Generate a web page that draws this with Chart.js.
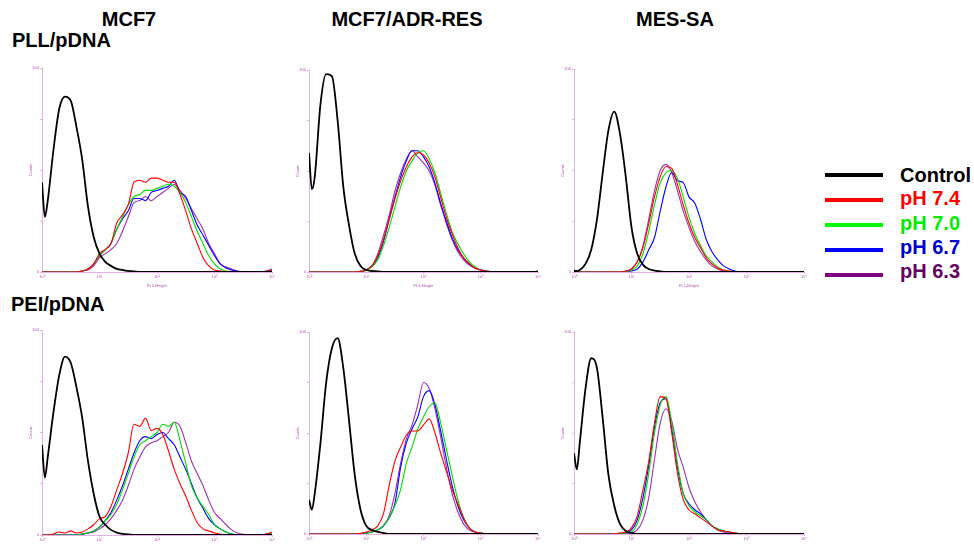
<!DOCTYPE html>
<html><head><meta charset="utf-8">
<script src="https://cdn.jsdelivr.net/npm/chart.js@4.4.1/dist/chart.umd.min.js"></script>
<style>
body{margin:0;background:#fff;width:974px;height:546px;position:relative;overflow:hidden;font-family:"Liberation Sans",Arial,sans-serif;}
.t{position:absolute;font-weight:bold;font-size:20px;color:#000;white-space:nowrap;line-height:20px;}
.c{transform:translateX(-50%);}
canvas{position:absolute;}
.lg{position:absolute;height:4px;width:58px;left:825px;}
.lt{position:absolute;left:900px;font-weight:bold;font-size:20px;line-height:20px;white-space:nowrap;}
</style></head><body>
<div class="t c" style="left:129px;top:9px">MCF7</div>
<div class="t c" style="left:407px;top:9px">MCF7/ADR-RES</div>
<div class="t c" style="left:675px;top:9px">MES-SA</div>
<div class="t" style="left:12px;top:30px">PLL/pDNA</div>
<div class="t" style="left:11px;top:294px">PEI/pDNA</div>
<div id="legend"></div>
<script>
// x grid: log10(FL1-Height), decades 10^0 .. 10^4
const gridLogFL1 = [0,0.05,0.1,0.2,0.3,0.4,0.5,0.6,0.7,0.8,0.9,1.0,1.1,1.2,1.3,1.4,1.5,1.6,1.7,1.8,1.9,2.0,2.1,2.2,2.3,2.4,2.5,2.6,2.7,2.8,2.9,3.0,3.1,3.2,3.3,3.4,3.5,3.6,3.7,3.8,3.9,4.0];
const xTickLabels = ['10⁰','10¹','10²','10³','10⁴'];
const seriesNames = ['Control','pH 7.4','pH 7.0','pH 6.7','pH 6.3'];
const rowLabels = ['PLL/pDNA','PEI/pDNA'];
const colLabels = ['MCF7','MCF7/ADR-RES','MES-SA'];

// PLL/pDNA – MCF7 (counts, % of axis max)
const pllMcf7Control = [44,27, 35,60,80,86,84,71,55,32,17,9, 5,3,1.5,1,0.5,0.3,0,0,0,0, 0,0,0,0,0,0,0,0,0,0, 0,0,0,0,0,0,0,0,0,0];
const pllMcf7Ph74 = [0,0, 0,0,0,0,0,0,0.5,1.5,4,9, 11,14,24,28,33,44,45,44,46,46, 45,44,44,38,30,21,14,7,3,1, 0.5,0,0,0,0,0,0,0,0.3,1];
const pllMcf7Ph70 = [0,0, 0,0,0,0,0,0,0.5,1.5,4,8, 11,14,21,27,33,37,38,40,40,41, 42,43,42,39,34,27,20,14,8,4, 1.5,0.5,0,0,0,0,0,0,0.3,0.8];
const pllMcf7Ph67 = [0,0, 0,0,0,0,0,0,0.5,1.5,4,8, 11,14,21,26,30,36,36,35,39,40, 41,42,45,39,37,30,23,18,13,8, 4,2,1,0.3,0,0,0,0,0.3,1];
const pllMcf7Ph63 = [0,0, 0,0,0,0,0,0,0.5,1,3,7, 9,11,14,20,27,34,35,37,35,37, 39,41,43,40,36,31,26,21,14,9, 4,2.5,1.5,0.5,0.2,0,0,0,0.5,1.5];

// PLL/pDNA – MCF7/ADR-RES
const pllAdrControl = [59,41, 47,83,98,97,75,42,23,9,3,1, 0.5,0.3,0,0,0,0,0,0,0,0, 0,0,0,0,0,0,0,0,0,0, 0,0,0,0,0,0,0,0,0,0];
const pllAdrPh74 = [0,0, 0,0,0,0,0,0,0,0,0.3,1, 3,8,16,26,36,45,52,57,59,58, 54,47,37,27,19,12,7,4,2,1, 0.5,0,0,0,0,0,0,0,0,0.3];
const pllAdrPh70 = [0,0, 0,0,0,0,0,0,0,0,0.2,0.8, 2.5,6,13,22,32,42,50,55,59,60, 56,49,39,29,20,14,9,5,2.5,1, 0.5,0,0,0,0,0,0,0,0,0.3];
const pllAdrPh67 = [0,0, 0,0,0,0,0,0,0,0,0.3,1, 3,7,15,26,37,47,55,60,60,57, 52,44,34,25,17,11,7,4,2,1, 0.5,0,0,0,0,0,0,0,0,0.3];
const pllAdrPh63 = [0,0, 0,0,0,0,0,0,0,0,0.3,1, 3,9,18,28,40,49,56,60,57,54, 50,43,33,24,16,10,6,3.5,2,1, 0.5,0,0,0,0,0,0,0,0,0.5];

// PLL/pDNA – MES-SA
const pllMesControl = [0.5,0.5, 1,4,11,26,49,70,79,68,47,22, 9,3.5,1.5,0.7,0.3,0,0,0,0,0, 0,0,0,0,0,0,0,0,0,0, 0,0,0,0,0,0,0,0,0,0];
const pllMesPh74 = [0,0, 0,0,0,0,0,0,0,0,0.5,1.5, 5,12,24,37,47,52,51,43,33,24, 17,12,7,4,2,1,0.5,0,0,0, 0,0,0,0,0,0,0,0,0,0];
const pllMesPh70 = [0,0, 0,0,0,0,0,0,0,0,0.3,1, 3,9,20,33,44,49,50,46,37,27, 19,13,8,5,2.5,1,0.5,0,0,0, 0,0,0,0,0,0,0,0,0,0];
const pllMesPh67 = [0,0, 0,0,0,0,0,0,0,0,0.2,0.5, 1.5,5,11,17,30,42,49,45,44,37, 34,26,16,10,6,3,1.5,0.5,0,0, 0,0,0,0,0,0,0,0,0,0];
const pllMesPh63 = [0,0, 0,0,0,0,0,0,0,0,0.5,1.5, 5,13,26,40,50,53,49,40,30,22, 15,10,6,3,1.5,0.5,0,0,0,0, 0,0,0,0,0,0,0,0,0,0];

// PEI/pDNA – MCF7
const peiMcf7Control = [44,28, 38,60,78,87,84,72,57,36,20,9, 5,2.5,1.2,0.5,0.3,0,0,0,0,0, 0,0,0,0,0,0,0,0,0,0, 0,0,0,0,0,0,0,0,0,0];
const peiMcf7Ph74 = [0,0, 0,0.5,1.5,1,2,1,1.5,3,5,8, 9,14,22,30,40,54,53,57,51,52, 49,41,32,25,19,12,6,3,2,1, 0.5,0,0,0,0,0,0,0,0.5,1.5];
const peiMcf7Ph70 = [0,0, 0,0,0,0,0,0,0.5,1,2,4, 7,10,15,22,30,38,44,46,48,50, 54,53,55,46,35,24,18,14,10,5, 3,1.5,0.5,0,0,0,0,0,0.3,0.8];
const peiMcf7Ph67 = [0,0, 0,0,0,0,0,0,0.5,1,2,4, 7,11,17,24,32,40,46,48,47,49, 50,47,44,38,32,25,18,13,8,5, 3,1.5,0.5,0,0,0,0,0,0.3,0.8];
const peiMcf7Ph63 = [0,0, 0,0,0,0,0,0,0.3,1,1.5,3, 5,8,12,17,24,32,38,43,45,46, 48,50,55,53,45,36,30,24,17,11, 8,5,2.5,1,0.3,0,0,0,0.3,0.8];

// PEI/pDNA – MCF7/ADR-RES
const peiAdrControl = [17,12, 20,45,75,92,97,82,56,29,12,4, 2,1,0.5,0,0,0,0,0,0,0, 0,0,0,0,0,0,0,0,0,0, 0,0,0,0,0,0,0,0,0,0];
const peiAdrPh74 = [0,0, 0,0,0,0,0,0,0,0,0.3,1, 2,4,10,24,36,43,49,51,51,54, 57,50,40,31,22,15,8,3,1,0.5, 0,0,0,0,0,0,0,0,0,0];
const peiAdrPh70 = [0,0, 0,0,0,0,0,0,0,0,0.2,0.5, 1,2,4,8,14,22,35,43,52,58, 63,65,55,42,29,17,8,3,1,0.5, 0,0,0,0,0,0,0,0,0,0];
const peiAdrPh67 = [0,0, 0,0,0,0,0,0,0,0,0.2,0.5, 1,2,4,8,15,33,45,52,58,68, 71,64,51,37,24,14,7,3,1,0.5, 0,0,0,0,0,0,0,0,0,0];
const peiAdrPh63 = [0,0, 0,0,0,0,0,0,0,0,0.2,0.5, 1,2,4,9,20,35,47,54,64,75, 72,62,48,33,20,11,5,2,1,0.5, 0,0,0,0,0,0,0,0,0,0];

// PEI/pDNA – MES-SA
const peiMesControl = [40,32, 45,72,87,82,57,29,14,5,1.5,0.5, 0,0,0,0,0,0,0,0,0,0, 0,0,0,0,0,0,0,0,0,0, 0,0,0,0,0,0,0,0,0,0];
const peiMesPh74 = [0,0, 0,0,0,0,0,0,0,0.5,1,3, 9,22,36,55,68,67,50,30,17,12, 10,8,6,4,2,1.5,1,0.5,0,0, 0,0,0,0,0,0,0,0,0,0];
const peiMesPh70 = [0,0, 0,0,0,0,0,0,0,0.3,0.5,1, 5,14,30,50,64,68,55,35,20,14, 11,9,7,4,2.5,1.5,1,0.5,0,0, 0,0,0,0,0,0,0,0,0,0];
const peiMesPh67 = [0,0, 0,0,0,0,0,0,0,0.3,0.7,2, 7,18,34,53,65,67,52,33,20,15, 12,10,7,4,2.5,1.5,1,0.5,0,0, 0,0,0,0,0,0,0,0,0,0];
const peiMesPh63 = [0,0, 0,0,0,0,0,0,0,0,0.2,0.5, 2,7,18,37,55,62,56,42,33,23, 16,11,7,4,2,1,0.5,0,0,0, 0,0,0,0,0,0,0,0,0,0];

const lineColors = ['#000000','#ff0000','#00dd00','#0000ff','#a030b0'];
const lineWidths = [1.8,1.1,1.1,1.1,1.1];
const legendLineColors = ['#000000','#ff0000','#00ff00','#0000ff','#800080'];
const legendTextColors = ['#000000','#ff0000','#00ee00','#0000cc','#660066'];

const panels = [
  {x:42, y:68, w:230, h:204, data:[pllMcf7Control,pllMcf7Ph74,pllMcf7Ph70,pllMcf7Ph67,pllMcf7Ph63]},
  {x:309,y:70, w:229, h:202, data:[pllAdrControl,pllAdrPh74,pllAdrPh70,pllAdrPh67,pllAdrPh63]},
  {x:574,y:69, w:230, h:203, data:[pllMesControl,pllMesPh74,pllMesPh70,pllMesPh67,pllMesPh63]},
  {x:42, y:330,w:230, h:205, data:[peiMcf7Control,peiMcf7Ph74,peiMcf7Ph70,peiMcf7Ph67,peiMcf7Ph63]},
  {x:309,y:332,w:229, h:202, data:[peiAdrControl,peiAdrPh74,peiAdrPh70,peiAdrPh67,peiAdrPh63]},
  {x:574,y:332,w:230, h:202, data:[peiMesControl,peiMesPh74,peiMesPh70,peiMesPh67,peiMesPh63]}
];

const axisCol = '#e6b0e6', tickTxt = '#b050b0';
const YW=14, PT=4, PR=6, XH=16;

panels.forEach(p=>{
  const c=document.createElement('canvas');
  const w=YW+p.w+PR, h=PT+p.h+XH;
  c.width=w; c.height=h;
  c.style.left=(p.x-YW)+'px'; c.style.top=(p.y-PT)+'px';
  c.style.width=w+'px'; c.style.height=h+'px';
  document.body.appendChild(c);
  new Chart(c,{
    type:'line',
    data:{datasets:p.data.map((vals,k)=>({
      label:seriesNames[k],
      data:gridLogFL1.map((x,i)=>({x:x,y:vals[i]})),
      borderColor:lineColors[k], borderWidth:lineWidths[k],
      pointRadius:0, fill:false, cubicInterpolationMode:'monotone'
    }))},
    options:{
      responsive:false, animation:false, devicePixelRatio:1,
      layout:{padding:{left:0,top:PT,right:PR,bottom:0}},
      plugins:{legend:{display:false},tooltip:{enabled:false}},
      scales:{
        x:{type:'linear',min:0,max:4,
          afterFit(s){s.height=XH;},
          ticks:{stepSize:1,autoSkip:false,maxRotation:0,padding:0,font:{size:4},color:tickTxt,
            callback:v=>xTickLabels[v]},
          grid:{drawOnChartArea:false,tickLength:2,color:axisCol},
          border:{color:axisCol,width:1},
          title:{display:true,text:'FL1-Height',font:{size:4},color:tickTxt,padding:0}},
        y:{min:0,max:100,
          afterFit(s){s.width=YW;},
          ticks:{stepSize:25,padding:1,font:{size:4},color:tickTxt,
            callback:v=>(v===0?'0':(v===100?'100':''))},
          grid:{drawOnChartArea:false,tickLength:2,color:axisCol},
          border:{color:axisCol,width:1},
          title:{display:true,text:'Counts',font:{size:4},color:tickTxt,padding:0}}
      }
    }
  });
});

// legend
const lg=document.getElementById('legend');
const lineY=[175,200,225,250,275];
const textY=[165,188,213,237,261];
seriesNames.forEach((n,k)=>{
  const l=document.createElement('div'); l.className='lg';
  l.style.top=(lineY[k]-2)+'px'; l.style.background=legendLineColors[k]; lg.appendChild(l);
  const t=document.createElement('div'); t.className='lt';
  t.style.top=textY[k]+'px'; t.style.color=legendTextColors[k]; t.textContent=n; lg.appendChild(t);
});
</script>
</body></html>
